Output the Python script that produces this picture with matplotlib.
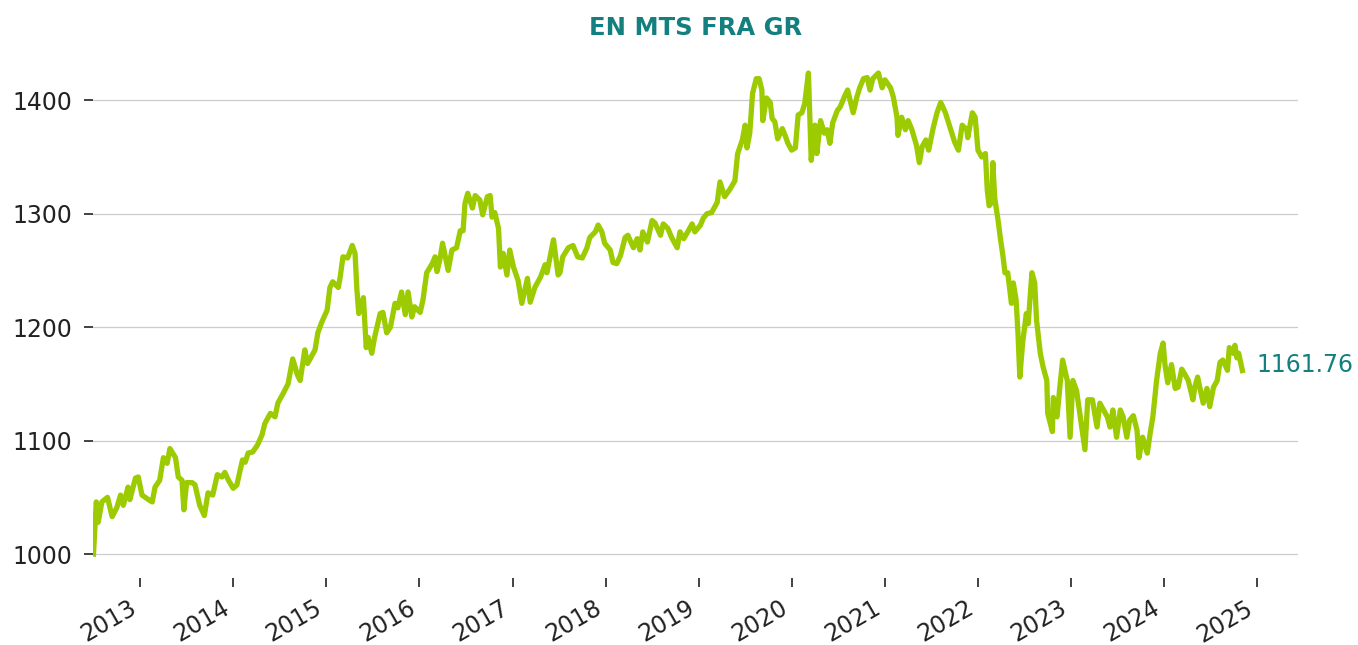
import numpy as np
import pandas as pd
import matplotlib
matplotlib.use("Agg")
import matplotlib.pyplot as plt
import matplotlib.dates as mdates

# decimal-year time stamps
years_dec = [
    2012.50, 2012.53, 2012.55, 2012.59, 2012.65, 2012.70, 2012.75, 2012.79, 2012.82, 2012.87,
    2012.89, 2012.95, 2012.98, 2013.02, 2013.09, 2013.13, 2013.16, 2013.21, 2013.25, 2013.29,
    2013.32, 2013.38, 2013.41, 2013.45, 2013.47, 2013.50, 2013.56, 2013.59, 2013.64, 2013.69,
    2013.73, 2013.78, 2013.83, 2013.88, 2013.91, 2013.95, 2014.00, 2014.04, 2014.10, 2014.13,
    2014.16, 2014.21, 2014.26, 2014.31, 2014.34, 2014.40, 2014.45, 2014.48, 2014.54, 2014.59,
    2014.64, 2014.69, 2014.72, 2014.77, 2014.80, 2014.88, 2014.91, 2014.95, 2015.01, 2015.04,
    2015.07, 2015.13, 2015.15, 2015.18, 2015.23, 2015.28, 2015.31, 2015.33, 2015.35, 2015.40,
    2015.43, 2015.45, 2015.49, 2015.52, 2015.58, 2015.61, 2015.65, 2015.69, 2015.74, 2015.77,
    2015.81, 2015.85, 2015.88, 2015.92, 2015.95, 2016.01, 2016.04, 2016.08, 2016.14, 2016.17,
    2016.19, 2016.22, 2016.25, 2016.31, 2016.35, 2016.40, 2016.44, 2016.47, 2016.49, 2016.52,
    2016.57, 2016.60, 2016.65, 2016.68, 2016.73, 2016.76, 2016.78, 2016.81, 2016.85, 2016.87,
    2016.90, 2016.94, 2016.97, 2017.01, 2017.06, 2017.10, 2017.16, 2017.19, 2017.24, 2017.30,
    2017.35, 2017.37, 2017.44, 2017.49, 2017.51, 2017.54, 2017.60, 2017.65, 2017.70, 2017.75,
    2017.80, 2017.83, 2017.89, 2017.92, 2017.96, 2017.99, 2018.05, 2018.08, 2018.12, 2018.16,
    2018.21, 2018.24, 2018.30, 2018.34, 2018.37, 2018.40, 2018.45, 2018.50, 2018.53, 2018.59,
    2018.62, 2018.67, 2018.71, 2018.77, 2018.80, 2018.84, 2018.89, 2018.93, 2018.96, 2019.02,
    2019.05, 2019.09, 2019.14, 2019.20, 2019.23, 2019.28, 2019.34, 2019.39, 2019.42, 2019.47,
    2019.50, 2019.52, 2019.55, 2019.58, 2019.62, 2019.65, 2019.68, 2019.69, 2019.73, 2019.77,
    2019.79, 2019.82, 2019.85, 2019.90, 2019.93, 2019.96, 2020.00, 2020.04, 2020.07, 2020.11,
    2020.14, 2020.18, 2020.21, 2020.25, 2020.27, 2020.31, 2020.35, 2020.38, 2020.41, 2020.44,
    2020.49, 2020.52, 2020.57, 2020.60, 2020.66, 2020.70, 2020.73, 2020.77, 2020.81, 2020.84,
    2020.87, 2020.93, 2020.97, 2021.00, 2021.06, 2021.09, 2021.13, 2021.14, 2021.18, 2021.22,
    2021.25, 2021.29, 2021.34, 2021.37, 2021.40, 2021.44, 2021.47, 2021.52, 2021.56, 2021.60,
    2021.65, 2021.70, 2021.75, 2021.79, 2021.83, 2021.88, 2021.89, 2021.94, 2021.97, 2022.00,
    2022.04, 2022.08, 2022.10, 2022.12, 2022.15, 2022.16, 2022.18, 2022.22, 2022.24, 2022.27,
    2022.29, 2022.32, 2022.36, 2022.38, 2022.41, 2022.43, 2022.45, 2022.48, 2022.52, 2022.54,
    2022.58, 2022.61, 2022.63, 2022.67, 2022.70, 2022.74, 2022.75, 2022.80, 2022.81, 2022.85,
    2022.88, 2022.91, 2022.96, 2022.99, 2023.02, 2023.06, 2023.10, 2023.15, 2023.18, 2023.23,
    2023.28, 2023.31, 2023.39, 2023.42, 2023.45, 2023.49, 2023.53, 2023.56, 2023.60, 2023.63,
    2023.67, 2023.71, 2023.73, 2023.77, 2023.82, 2023.85, 2023.88, 2023.92, 2023.96, 2023.99,
    2024.01, 2024.04, 2024.08, 2024.12, 2024.15, 2024.19, 2024.22, 2024.26, 2024.31, 2024.33,
    2024.36, 2024.42, 2024.46, 2024.49, 2024.53, 2024.57, 2024.60, 2024.63, 2024.68, 2024.70,
    2024.74, 2024.76, 2024.78, 2024.80, 2024.84,
]

index_values = [
    1000, 1046, 1028, 1046, 1050, 1033, 1041, 1052, 1043, 1059,
    1048, 1067, 1068, 1052, 1048, 1046, 1059, 1065, 1085, 1080,
    1093, 1085, 1068, 1065, 1039, 1063, 1063, 1061, 1043, 1034,
    1054, 1052, 1070, 1068, 1072, 1065, 1058, 1061, 1083, 1081,
    1089, 1090, 1096, 1105, 1115, 1124, 1121, 1133, 1142, 1150,
    1172, 1158, 1153, 1180, 1168, 1180, 1195, 1204, 1215, 1235,
    1240, 1235, 1244, 1262, 1261, 1272, 1265, 1233, 1212, 1226,
    1182, 1191, 1177, 1191, 1212, 1213, 1195, 1200, 1221, 1217,
    1231, 1211, 1231, 1209, 1218, 1213, 1224, 1248, 1256, 1262,
    1249, 1259, 1274, 1250, 1268, 1270, 1285, 1285, 1309, 1318,
    1305, 1316, 1312, 1299, 1315, 1316, 1297, 1301, 1287, 1253,
    1265, 1246, 1268, 1253, 1241, 1221, 1243, 1222, 1235, 1244,
    1255, 1248, 1277, 1246, 1248, 1262, 1270, 1272, 1262, 1261,
    1270, 1279, 1284, 1290, 1284, 1274, 1268, 1257, 1256, 1263,
    1279, 1281, 1270, 1278, 1268, 1284, 1275, 1294, 1292, 1281,
    1291, 1287, 1279, 1270, 1284, 1278, 1285, 1291, 1284, 1290,
    1296, 1300, 1301, 1310, 1328, 1315, 1322, 1329, 1353, 1365,
    1378, 1358, 1371, 1406, 1419, 1419, 1409, 1382, 1402, 1398,
    1384, 1381, 1366, 1375, 1369, 1362, 1356, 1358, 1387, 1389,
    1397, 1424, 1347, 1378, 1353, 1382, 1371, 1374, 1362, 1380,
    1391, 1394, 1404, 1409, 1389, 1403, 1411, 1419, 1420, 1409,
    1419, 1424, 1411, 1418, 1411, 1403, 1385, 1369, 1385, 1374,
    1382, 1374, 1360, 1345, 1359, 1365, 1356, 1376, 1389, 1398,
    1389, 1376, 1363, 1356, 1378, 1374, 1367, 1389, 1385, 1356,
    1350, 1353, 1321, 1307, 1310, 1345, 1314, 1292, 1279, 1262,
    1248, 1248, 1221, 1239, 1224, 1195, 1156, 1186, 1212, 1203,
    1248, 1239, 1206, 1177, 1165, 1153, 1124, 1108, 1138, 1121,
    1147, 1171, 1153, 1103, 1153, 1144, 1121, 1092, 1136, 1136,
    1112, 1133, 1121, 1112, 1127, 1103, 1127, 1121, 1103, 1118,
    1122, 1109, 1085, 1103, 1089, 1106, 1121, 1153, 1177, 1186,
    1167, 1151, 1167, 1146, 1147, 1163, 1159, 1153, 1136, 1147,
    1156, 1133, 1146, 1130, 1147, 1153, 1169, 1171, 1162, 1182,
    1177, 1184, 1173, 1177, 1161.76,
]

title_text = "EN MTS FRA GR"
last_label = "1161.76"
y_ticks = [1000, 1100, 1200, 1300, 1400]


def dec_to_date(y):
    yr = int(np.floor(y))
    start = pd.Timestamp(year=yr, month=1, day=1)
    end = pd.Timestamp(year=yr + 1, month=1, day=1)
    return start + (end - start) * (y - yr)


dates = [dec_to_date(y) for y in years_dec]

LINE = "#9BCB00"
TEAL = "#137F7F"

fig = plt.figure(figsize=(13.58, 6.45), dpi=100)
ax = fig.add_axes([0.0685, 0.104, 0.8875, 0.818])

ax.plot(dates, index_values, color=LINE, linewidth=3.8, solid_joinstyle="round")

ax.set_ylim(979, 1444)
ax.set_xlim(dec_to_date(2012.495), dec_to_date(2025.44))
ax.set_yticks(y_ticks)
ax.yaxis.grid(True, color="#cccccc", linewidth=0.9)
ax.set_axisbelow(True)
for s in ax.spines.values():
    s.set_visible(False)

ax.xaxis.set_major_locator(mdates.YearLocator())
ax.xaxis.set_major_formatter(mdates.DateFormatter("%Y"))
ax.tick_params(axis="both", labelsize=17, colors="#222222", length=6.5, width=1.2)
ax.tick_params(axis="y", pad=8.5)
ax.tick_params(axis="x", pad=6.5)
for lab in ax.get_xticklabels():
    lab.set_rotation(30)
    lab.set_ha("right")

ax.annotate(last_label, xy=(dates[-1], index_values[-1]), xytext=(10, 4),
            textcoords="offset points", va="center", ha="left",
            fontsize=17, color=TEAL, annotation_clip=False)

ax.set_title(title_text, fontsize=17.5, fontweight="bold", color=TEAL, pad=11)

fig.savefig("out.png", dpi=100)
